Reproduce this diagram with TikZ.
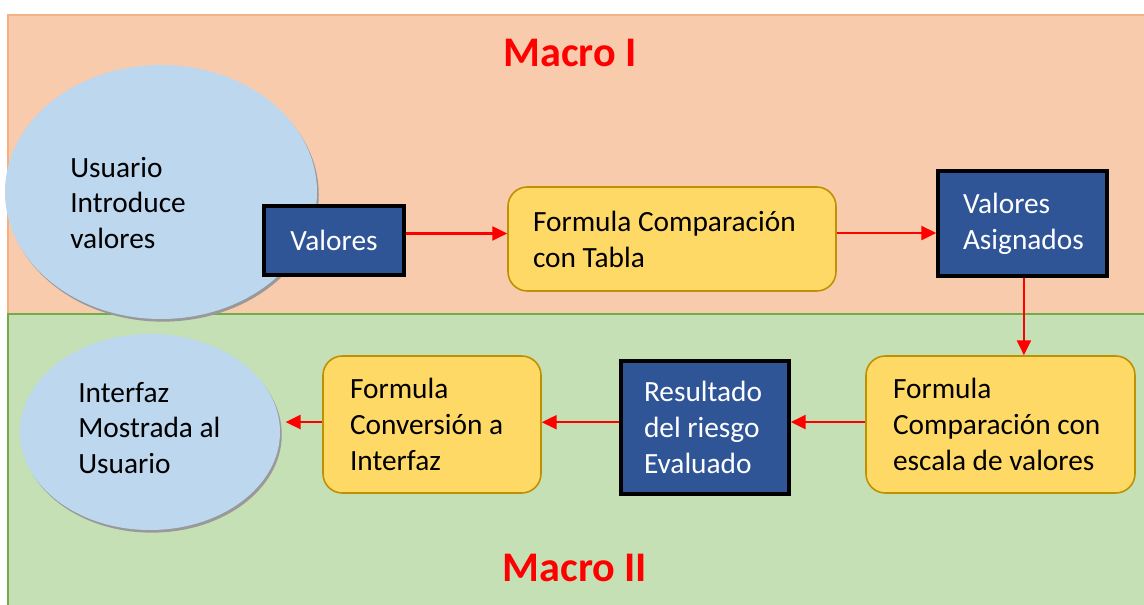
\documentclass[tikz,border=0pt]{standalone}
\usepackage{fontspec}
\setmainfont{Carlito}
\usetikzlibrary{arrows.meta,shapes.geometric,shadows}
\definecolor{orfill}{HTML}{F8CBAD}
\definecolor{ordraw}{HTML}{F4B183}
\definecolor{grfill}{HTML}{C5E0B4}
\definecolor{grdraw}{HTML}{70AD47}
\definecolor{elfill}{HTML}{BDD7EE}
\definecolor{dkblue}{HTML}{2F5597}
\definecolor{yefill}{HTML}{FFD966}
\definecolor{yedraw}{HTML}{BF9000}
\definecolor{arred}{HTML}{FF0000}
\definecolor{ttred}{HTML}{FF0000}
\newcommand\natsp{\spaceskip=0pt\xspaceskip=0pt\relax}
\tikzset{
  txt/.style={font=\fontsize{16.7}{20.4}\selectfont},
  elli/.style={ellipse, fill=elfill, inner sep=0pt,
    drop shadow={shadow xshift=1pt, shadow yshift=-1.5pt, fill=black!40, opacity=1}},
  elltext/.style={txt, align=left, anchor=west, inner sep=0pt},
  darkbox/.style={rectangle, fill=dkblue, draw=black, line width=2pt, text=white, txt, align=left, inner ysep=0pt},
  yelbox/.style={rectangle, rounded corners=11pt, fill=yefill, draw=yedraw, line width=0.9pt, txt, align=left, inner ysep=0pt},
  arr/.style={draw=arred, line width=1.2pt, -{Triangle[length=8.5pt,width=8pt]}},
  title/.style={text=ttred, font=\fontsize{24}{28}\selectfont\bfseries}
}
\begin{document}
\begin{tikzpicture}[x=0.02cm,y=-0.02cm]
\useasboundingbox (0,0) rectangle (1144,605);
\clip (0,0) rectangle (1144,605);
\fill[white] (0,0) rectangle (1144,605);
% regions
\draw[fill=orfill, draw=ordraw, line width=0.8pt] (8,15) rectangle (1160,314);
\draw[fill=grfill, draw=grdraw, line width=0.8pt] (8,314) rectangle (1160,620);
\node[title] (t1) at (570,53) {Macro I};
\node[title] (t2) at (575,568) {Macro II};
% ellipses
\node[elli, minimum width=312*0.02cm, minimum height=254*0.02cm] (e1) at (161,192) {};
\node[elltext] (e1t) at (70,203) {\natsp Usuario\\Introduce\\valores};
\node[elli, minimum width=260*0.02cm, minimum height=196*0.02cm] (e2) at (150,432) {};
\node[elltext] (e2t) at (78,428) {\natsp Interfaz\\Mostrada al\\Usuario};
% boxes
\node[darkbox, minimum width=140*0.02cm, minimum height=69*0.02cm, align=center] (val) at (334,240.5) {Valores};
\node[yelbox, minimum height=104*0.02cm, inner xsep=25*0.02cm, text width=278*0.02cm] (ftab) at (672,239) {\natsp Formula Comparación\\con Tabla};
\node[darkbox, minimum height=105*0.02cm, inner xsep=25*0.02cm, text width=119*0.02cm] (vasig) at (1022.5,223.5) {\natsp Valores\\Asignados};
\node[yelbox, minimum height=137*0.02cm, inner xsep=27*0.02cm, text width=215*0.02cm] (fesc) at (1000.5,424.5) {\natsp Formula\\Comparación con\\escala de valores};
\node[darkbox, minimum height=133*0.02cm, inner xsep=23*0.02cm, text width=122*0.02cm] (res) at (705,427.5) {\natsp Resultado\\del riesgo\\Evaluado};
\node[yelbox, minimum height=137*0.02cm, inner xsep=27*0.02cm, text width=164*0.02cm] (conv) at (432,424.5) {\natsp Formula\\Conversión a\\Interfaz};
% connectors
\draw[arr] ([yshift=4pt]val.east) -- ([yshift=4pt]val.east -| ftab.west);
\draw[arr] ([yshift=3.4pt]ftab.east) -- ([yshift=3.4pt]ftab.east -| vasig.west);
\draw[arr] ([xshift=0.8pt]vasig.south) -- ([xshift=0.8pt]vasig.south |- fesc.north);
\draw[arr] ([yshift=1.4pt]fesc.west) -- ([yshift=1.4pt]fesc.west -| res.east);
\draw[arr] ([yshift=3pt]res.west) -- ([yshift=3pt]res.west -| conv.east);
\draw[arr, shorten >=3pt] ([yshift=1.4pt]conv.west) -- ([yshift=1.4pt]conv.west -| e2.east);
\end{tikzpicture}
\end{document}
